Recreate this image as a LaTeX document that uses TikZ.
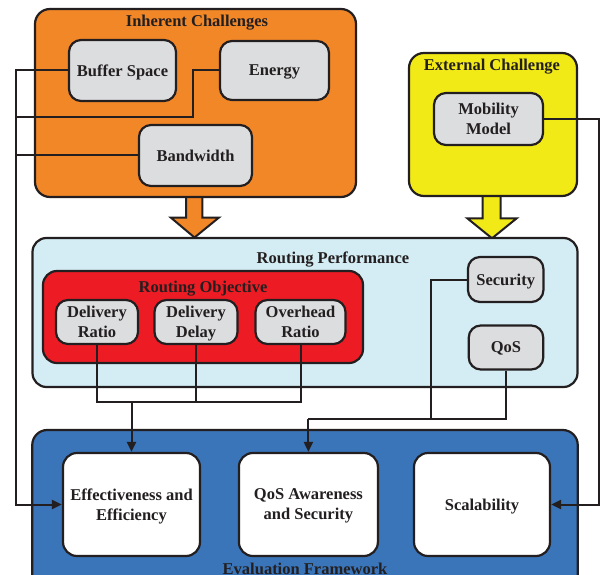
\documentclass[tikz,border=0pt]{standalone}
\usepackage{fontspec}
\setmainfont{Liberation Serif}
\usetikzlibrary{arrows.meta}
\definecolor{ink}{RGB}{35,31,32}
\definecolor{orangefill}{RGB}{242,135,40}
\definecolor{yellowfill}{RGB}{242,234,22}
\definecolor{paleblue}{RGB}{212,236,243}
\definecolor{redfill}{RGB}{237,28,36}
\definecolor{bluefill}{RGB}{58,116,185}
\definecolor{greyfill}{RGB}{220,221,223}
\tikzset{
  txt/.style={font=\bfseries\fontsize{16.5}{20}\selectfont, text=ink, align=center, inner sep=0pt, text depth=0pt},
  group/.style={draw=ink, line width=2.2pt, rounded corners=15pt, inner sep=0pt},
  item/.style={draw=ink, line width=2.2pt, rounded corners=12pt, fill=greyfill, txt},
  goal/.style={draw=ink, line width=2.2pt, rounded corners=14pt, fill=white, txt},
  link/.style={draw=ink, line width=2pt},
  linkto/.style={link, -{Triangle[length=10pt,width=9pt]}},
  blockarrow/.style={draw=ink, line width=2pt, line join=miter},
}
\begin{document}
\begin{tikzpicture}[x=1pt,y=-1pt]
\useasboundingbox (0,0) rectangle (600,575);

% block arrows between the challenge groups and routing performance
\draw[blockarrow, fill=orangefill] (186,190) -- (186,217.5) -- (170.7,217.5) -- (194.5,237.5)
  -- (219,217.5) -- (202.3,217.5) -- (202.3,190);
\draw[blockarrow, fill=yellowfill] (482.7,190) -- (482.7,218.3) -- (467.3,218.3) -- (492,238.3)
  -- (516.7,218.3) -- (500.7,218.3) -- (500.7,190);

% inherent challenges
\node[group, fill=orangefill, minimum width=321pt, minimum height=188pt] (inh) at (195.5,103) {};
\node[txt] (inhT) at (197,21) {Inherent Challenges};
\node[item, minimum width=107pt, minimum height=61pt] (buf) at (122.5,70.5) {Buffer Space};
\node[item, minimum width=109pt, minimum height=59pt] (en) at (274.5,70.5) {Energy};
\node[item, minimum width=113pt, minimum height=61pt] (bw) at (195.5,155.5) {Bandwidth};

% external challenge
\node[group, fill=yellowfill, minimum width=168pt, minimum height=143pt] (ext) at (493,124.5) {};
\node[txt] (extT) at (492,65) {External Challenge};
\node[item, minimum width=109pt, minimum height=52pt] (mob) at (488.5,119) {Mobility\\Model};

% routing performance
\node[group, fill=paleblue, rounded corners=14pt, minimum width=545pt, minimum height=149pt] (rp) at (305,312.5) {};
\node[txt] (rpT) at (333,258) {Routing Performance};
\node[group, fill=redfill, rounded corners=14pt, minimum width=320pt, minimum height=92pt] (ro) at (203,317) {};
\node[txt] (roT) at (203,287) {Routing Objective};
\node[item, minimum width=82pt, minimum height=44pt] (dr) at (97,322) {Delivery\\Ratio};
\node[item, minimum width=83pt, minimum height=44pt] (dd) at (196,322) {Delivery\\Delay};
\node[item, minimum width=90pt, minimum height=44pt] (ovr) at (300.5,322) {Overhead\\Ratio};
\node[item, minimum width=75.5pt, minimum height=45pt] (sec) at (505.7,279.5) {Security};
\node[item, minimum width=74.5pt, minimum height=44pt] (qos) at (506,347.5) {QoS};

% evaluation framework
\node[group, fill=bluefill, rounded corners=15pt, minimum width=545.5pt, minimum height=160pt] (ef) at (305,510) {};
\node[txt] (efT) at (305,569) {Evaluation Framework};
\node[goal, minimum width=137pt, minimum height=103pt] (ee) at (131.5,504.5) {Effectiveness and\\Efficiency};
\node[goal, minimum width=139pt, minimum height=103pt] (qa) at (308.4,504.5) {QoS Awareness\\and Security};
\node[goal, minimum width=136pt, minimum height=103pt] (sc) at (482,504.5) {Scalability};

% routing of the connectors
\coordinate (lx) at (16,0);
\coordinate (rx) at (599,0);
\coordinate (ek) at (193,117);
\coordinate (objbus) at (0,402);
\coordinate (objdrop) at (131.5,402);
\coordinate (secx) at (431,0);
\coordinate (qbus) at (0,419);
\coordinate (qdrop) at (308.4,419);

% challenges to effectiveness and scalability
\draw[linkto] (buf.west) -- (buf.west -| lx) -- (lx |- ee.west) -- (ee.west);
\draw[link] (en.west) -- (en.west -| ek) -- (ek) -- (ek -| lx);
\draw[link] (bw.west) -- (bw.west -| lx);
\draw[linkto] (mob.east) -- (mob.east -| rx) -- (rx |- sc.east) -- (sc.east);

% routing objectives to effectiveness
\draw[link] (dr.south) -- (dr.south |- objbus) -- (ovr.south |- objbus) -- (ovr.south);
\draw[link] (dd.south) -- (dd.south |- objbus);
\draw[linkto] (objdrop) -- (ee.north);

% security and QoS to QoS awareness
\draw[link] (sec.west) -- (sec.west -| secx) -- (secx |- qbus);
\draw[link] (qos.south) -- (qos.south |- qbus) -- (qdrop);
\draw[linkto] (qdrop) -- (qa.north);
\end{tikzpicture}
\end{document}
